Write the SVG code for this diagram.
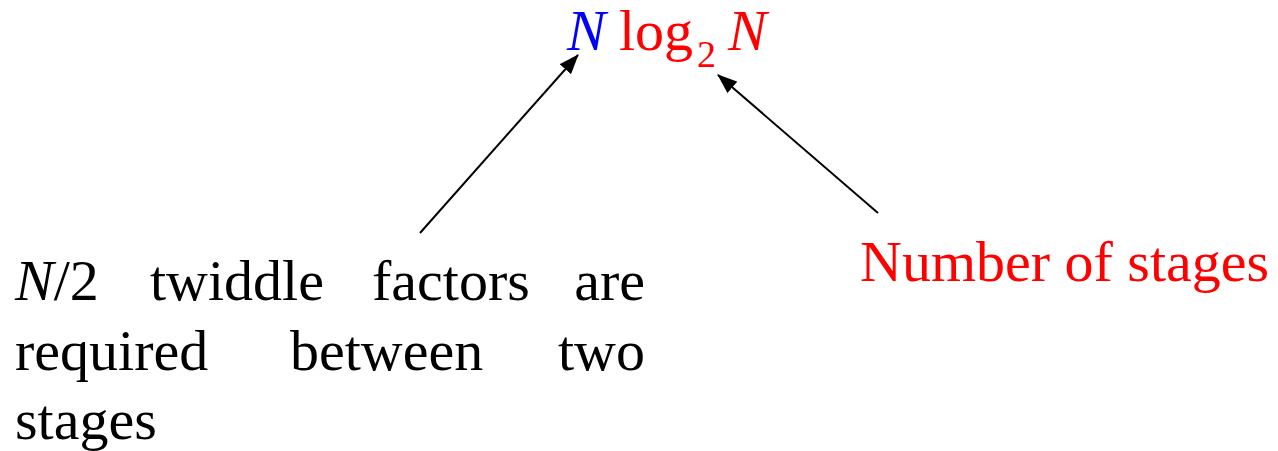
<svg xmlns="http://www.w3.org/2000/svg" width="1278" height="451" viewBox="0 0 1278 451">
<defs>
<style>
.t{font-family:"Liberation Serif","Times New Roman",serif;font-size:58px}
.k{fill:#000}
.r{fill:#ff0000}
.b{fill:#0000ff}
.i{font-style:italic}
.c{stroke:#000;stroke-width:2;fill:none}
</style>
<marker id="ah" viewBox="0 0 20 15" refX="19" refY="7.5" markerWidth="20" markerHeight="15" markerUnits="userSpaceOnUse" orient="auto">
<path d="M0,0 L20,7.5 L0,15 z" fill="#000"/>
</marker>
</defs>
<rect width="1278" height="451" fill="#fff"/>
<g id="formula">
<text class="t" x="567" y="50"><tspan class="b i">N</tspan><tspan class="r" x="619">log</tspan><tspan class="r" x="697" y="67" font-size="38">2</tspan><tspan class="r i" x="728" y="50">N</tspan></text>
</g>
<g id="twiddle">
<text class="t k" y="300"><tspan x="15" class="i">N</tspan><tspan>/2</tspan><tspan x="150">twiddle</tspan><tspan x="372">factors</tspan><tspan x="645" text-anchor="end">are</tspan></text>
<text class="t k" y="370"><tspan x="15">required</tspan><tspan x="290">between</tspan><tspan x="645" text-anchor="end">two</tspan></text>
<text class="t k" x="15" y="439">stages</text>
</g>
<g id="stages">
<text class="t r" x="860" y="281">Number of stages</text>
</g>
<g id="connectors">
<line class="c" x1="420" y1="233" x2="578" y2="55" marker-end="url(#ah)"/>
<line class="c" x1="878" y1="213" x2="718" y2="75" marker-end="url(#ah)"/>
</g>
</svg>
